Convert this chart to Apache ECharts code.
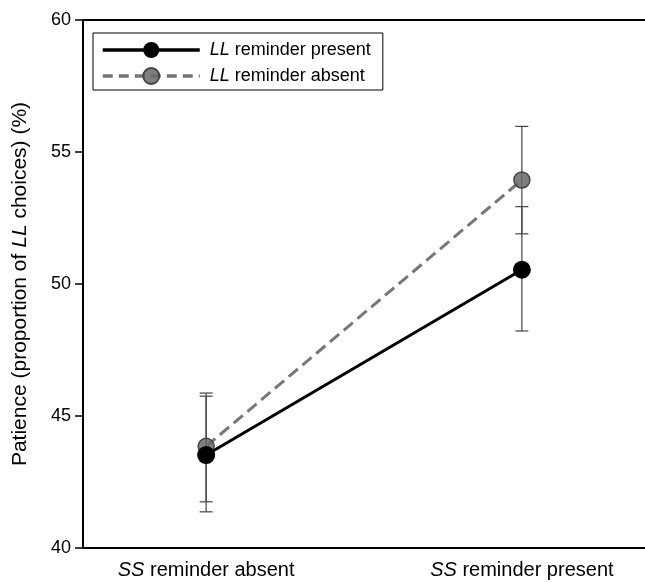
<!DOCTYPE html>
<html>
<head>
<meta charset="utf-8">
<script src="https://cdn.jsdelivr.net/npm/echarts@6/dist/echarts.min.js"></script>
<style>
html,body{margin:0;padding:0;background:#fff;}
#chart{width:645px;height:582px;}
</style>
</head>
<body>
<div id="chart"></div>
<script>
// Data
var categories = ['SS reminder absent', 'SS reminder present'];
var categoryPos = [1, 2];
var seriesNames = ['LL reminder present', 'LL reminder absent'];
var presentMean = [43.52, 50.54];
var presentLow = [41.37, 48.22];
var presentHigh = [45.75, 52.93];
var absentMean = [43.85, 53.94];
var absentLow = [41.75, 51.9];
var absentHigh = [45.87, 55.97];
var yTicks = [40, 45, 50, 55, 60];

var FONT = '"Liberation Sans", Arial, sans-serif';

function pairs(xs, ys) { return xs.map(function (x, i) { return [x, ys[i]]; }); }
function errData(xs, lo, hi) { return xs.map(function (x, i) { return [x, lo[i], hi[i]]; }); }

function errRender(params, api) {
  var x = api.value(0);
  var lo = api.coord([x, api.value(1)]);
  var hi = api.coord([x, api.value(2)]);
  var cap = 6.5;
  var st = { stroke: '#444', lineWidth: 1.2 };
  return {
    type: 'group',
    children: [
      { type: 'line', shape: { x1: lo[0], y1: lo[1], x2: hi[0], y2: hi[1] }, style: st },
      { type: 'line', shape: { x1: lo[0] - cap, y1: lo[1], x2: lo[0] + cap, y2: lo[1] }, style: st },
      { type: 'line', shape: { x1: hi[0] - cap, y1: hi[1], x2: hi[0] + cap, y2: hi[1] }, style: st }
    ]
  };
}

var chart = echarts.init(document.getElementById('chart'), null, { renderer: 'canvas' });
chart.setOption({
  animation: false,
  backgroundColor: '#fff',
  textStyle: { fontFamily: FONT },
  grid: { left: 83, right: 0, top: 20, bottom: 34 },
  legend: {
    left: 93, top: 33,
    orient: 'vertical',
    padding: [8, 12, 5, 8],
    itemGap: 8,
    itemWidth: 97,
    itemHeight: 20,
    borderColor: '#000',
    borderWidth: 1,
    data: [
      { name: seriesNames[0], lineStyle: { width: 3.5, color: '#000' } },
      { name: seriesNames[1], lineStyle: { width: 3.5, color: '#777', type: [10, 6] } }
    ],
    textStyle: {
      fontFamily: FONT, fontSize: 18, color: '#000',
      rich: {
        s: { width: 5 },
        i: { fontStyle: 'italic', fontFamily: FONT, fontSize: 18, color: '#000' }
      }
    },
    formatter: function (name) { return '{s|}' + name.replace(/^LL/, '{i|LL}'); }
  },
  xAxis: [{
    type: 'value', min: 0.61, max: 2.39,
    axisLine: { show: true, onZero: false, lineStyle: { color: '#000', width: 2 } },
    axisTick: { show: false },
    splitLine: { show: false },
    axisLabel: {
      customValues: categoryPos,
      margin: 12,
      fontSize: 20, color: '#000', fontFamily: FONT,
      formatter: function (v) {
        var idx = categoryPos.indexOf(Math.round(v));
        return idx < 0 ? '' : categories[idx].replace(/^SS/, '{i|SS}');
      },
      rich: { i: { fontStyle: 'italic', fontSize: 20, color: '#000', fontFamily: FONT } }
    }
  }, {
    type: 'value', position: 'top', min: 0.61, max: 2.39,
    axisLine: { show: true, onZero: false, lineStyle: { color: '#000', width: 2 } },
    axisTick: { show: false }, axisLabel: { show: false }, splitLine: { show: false }
  }],
  yAxis: {
    type: 'value', min: yTicks[0], max: yTicks[yTicks.length - 1], interval: 5,
    axisLine: { show: true, onZero: false, lineStyle: { color: '#000', width: 2 } },
    axisTick: { show: true, length: 8, lineStyle: { color: '#000', width: 1.5 } },
    splitLine: { show: false },
    axisLabel: { margin: 12, fontSize: 18, color: '#000', fontFamily: FONT },
    name: 'Patience (proportion of {i|LL} choices) (%)',
    nameLocation: 'middle',
    nameGap: 52,
    nameRotate: 90,
    nameTextStyle: {
      fontSize: 21, color: '#000', fontFamily: FONT,
      rich: { i: { fontStyle: 'italic', fontSize: 21, color: '#000', fontFamily: FONT } }
    }
  },
  series: [
    {
      type: 'custom', name: 'errAbsent', silent: true, z: 1,
      renderItem: errRender, data: errData(categoryPos, absentLow, absentHigh)
    },
    {
      type: 'custom', name: 'errPresent', silent: true, z: 1,
      renderItem: errRender, data: errData(categoryPos, presentLow, presentHigh)
    },
    {
      type: 'line', name: seriesNames[1], z: 3,
      data: pairs(categoryPos, absentMean),
      symbol: 'circle', symbolSize: 16,
      lineStyle: { color: '#777', width: 3, type: [12, 6] },
      itemStyle: { color: 'rgba(105,105,105,0.85)', borderColor: '#444', borderWidth: 1.5 }
    },
    {
      type: 'line', name: seriesNames[0], z: 4,
      data: pairs(categoryPos, presentMean),
      symbol: 'circle', symbolSize: 18,
      lineStyle: { color: '#000', width: 3 },
      itemStyle: { color: '#000', borderColor: '#000', borderWidth: 0 }
    }
  ]
});
</script>
</body>
</html>
